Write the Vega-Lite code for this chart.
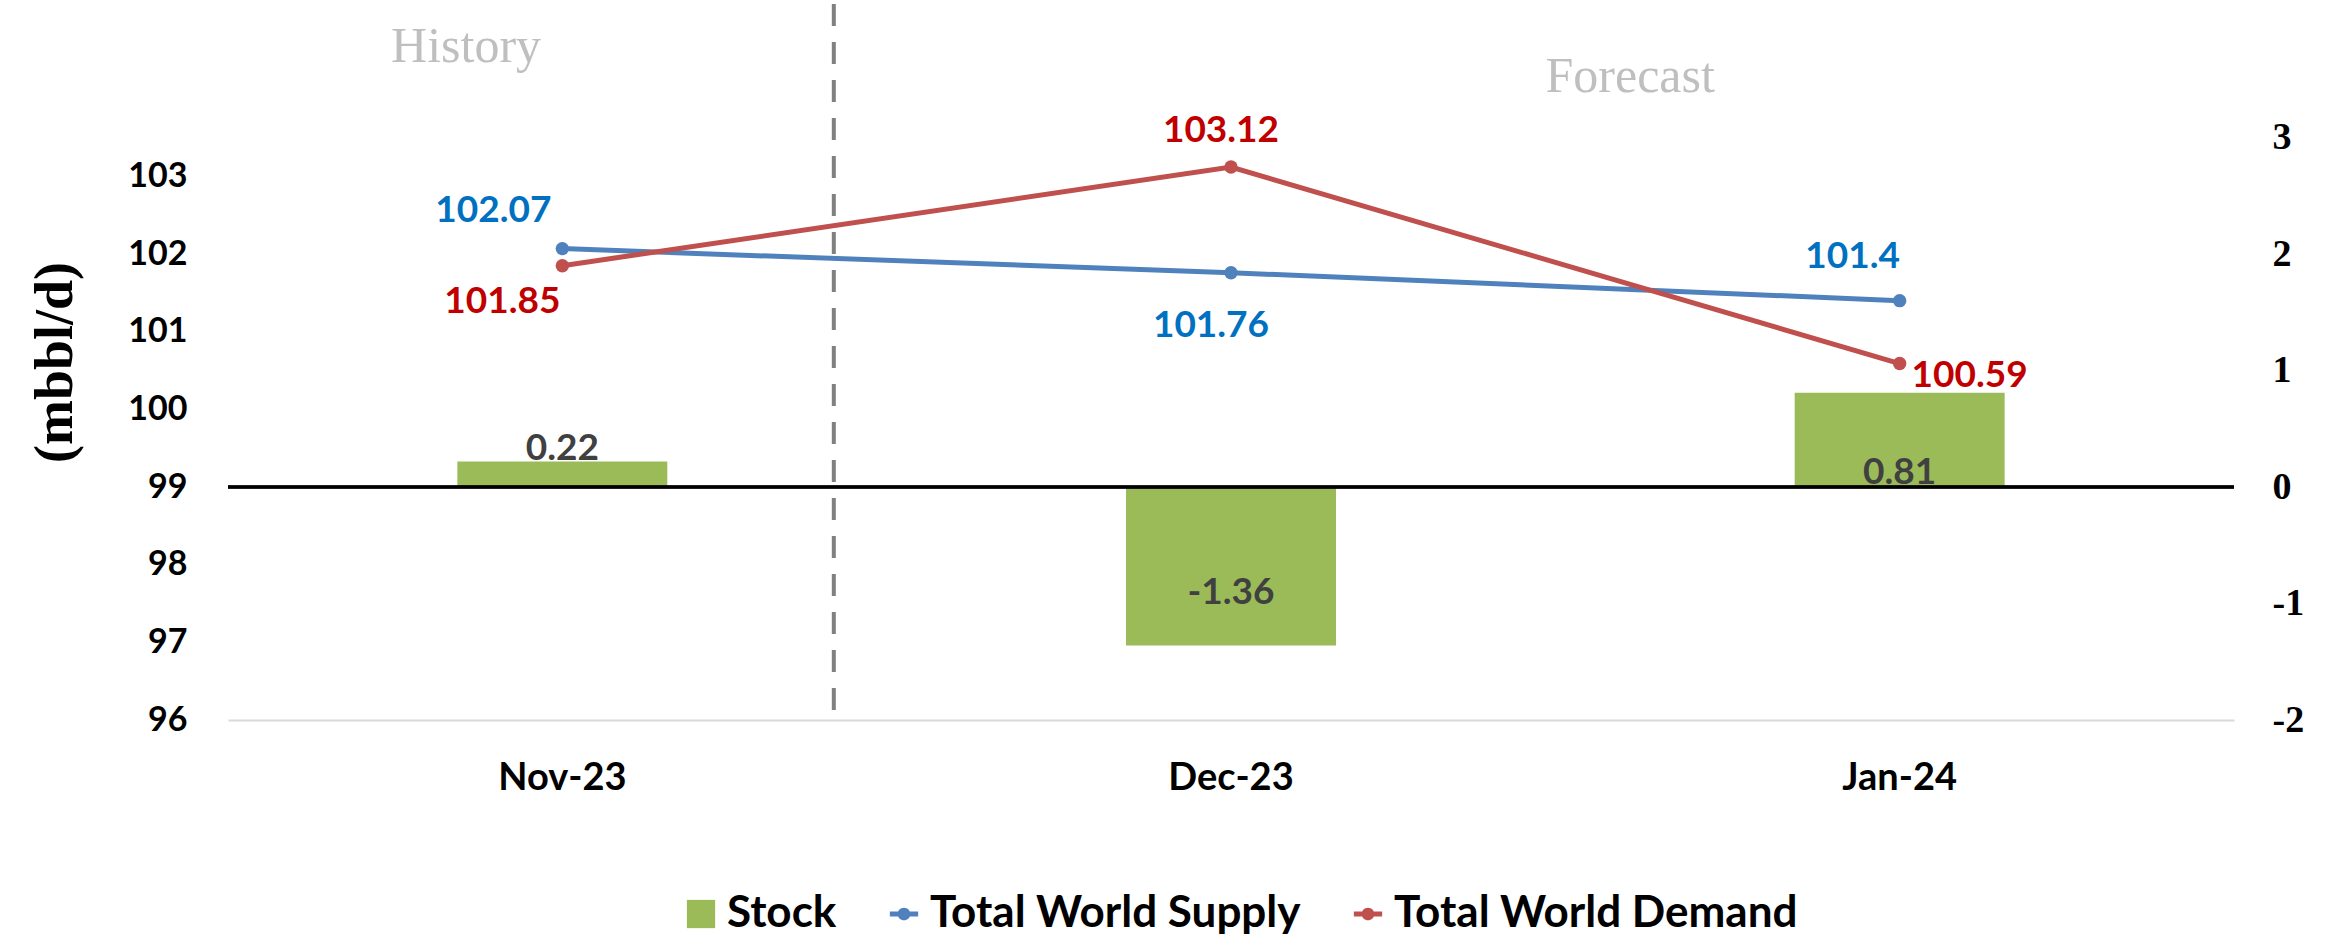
{
  "$schema": "https://vega.github.io/schema/vega-lite/v6.json",
  "autosize": "none",
  "width": 2006,
  "height": 716,
  "padding": {"left": 228, "top": 4, "right": 95, "bottom": 216},
  "background": "#FFFFFF",
  "config": {"view": {"stroke": null}},
  "data": {"values": [
    {"month": "Nov-23", "series": "Stock", "value": 0.22},
    {"month": "Dec-23", "series": "Stock", "value": -1.36},
    {"month": "Jan-24", "series": "Stock", "value": 0.81},
    {"month": "Nov-23", "series": "Total World Supply", "value": 102.07},
    {"month": "Dec-23", "series": "Total World Supply", "value": 101.76},
    {"month": "Jan-24", "series": "Total World Supply", "value": 101.4},
    {"month": "Nov-23", "series": "Total World Demand", "value": 101.85},
    {"month": "Dec-23", "series": "Total World Demand", "value": 103.12},
    {"month": "Jan-24", "series": "Total World Demand", "value": 100.59}
  ]},
  "resolve": {"scale": {"y": "independent"}, "axis": {"y": "independent"}},
  "layer": [
    {
      "transform": [{"filter": "datum.series === 'Stock'"}],
      "encoding": {
        "x": {
          "field": "month", "type": "nominal", "sort": ["Nov-23", "Dec-23", "Jan-24"],
          "scale": {"type": "band", "paddingInner": 0, "paddingOuter": 0},
          "axis": {"title": null, "domainColor": "#D9D9D9", "domainWidth": 2, "ticks": false, "labelAngle": 0,
            "labelFont": "Lato", "labelFontWeight": "bold", "labelFontSize": 38, "labelColor": "#000000", "labelPadding": 39}
        },
        "y": {
          "field": "value", "type": "quantitative",
          "scale": {"domain": [-2, 4.147], "nice": false, "zero": false},
          "axis": {"orient": "right", "title": null, "values": [-2, -1, 0, 1, 2, 3], "labelExpr": "'' + datum.value",
            "domain": false, "ticks": false, "grid": false, "labelFont": "Liberation Serif", "labelFontWeight": "bold",
            "labelFontSize": 38, "labelColor": "#000000", "labelPadding": 38}
        }
      },
      "layer": [
        {
          "mark": {"type": "bar", "width": {"band": 0.314}},
          "encoding": {
            "color": {"field": "series", "type": "nominal",
              "scale": {"domain": ["Stock", "Total World Supply", "Total World Demand"], "range": ["#9BBB59", "#4F81BD", "#C0504D"]},
              "legend": {"title": null, "orient": "none", "direction": "horizontal", "legendX": 451, "legendY": 888,
                "labelFont": "Lato", "labelFontWeight": "bold", "labelFontSize": 44, "labelColor": "#000000", "labelLimit": 0,
                "symbolSize": 800, "columnPadding": 45, "labelOffset": 4, "gridAlign": "none",
                "encode": {"symbols": {"update": {
                  "shape": {"signal": "datum.value === 'Stock' ? 'square' : 'M-1,-0.18H1V0.18H-1Z M0.45,0A0.45,0.45,0,1,1,-0.45,0A0.45,0.45,0,1,1,0.45,0Z'"},
                  "fill": {"scale": "color", "field": "value"},
                  "fillOpacity": {"value": 1},
                  "strokeWidth": {"value": 0}
                }}}}
            }
          }
        },
        {
          "transform": [{"filter": "datum.month === 'Nov-23'"}],
          "mark": {"type": "text", "font": "Lato", "fontWeight": "bold", "fontSize": 37, "color": "#404040", "baseline": "middle", "dy": -12},
          "encoding": {"text": {"field": "value"}}
        },
        {
          "transform": [{"filter": "datum.month === 'Dec-23'"}],
          "mark": {"type": "text", "font": "Lato", "fontWeight": "bold", "fontSize": 37, "color": "#404040", "baseline": "middle", "dy": -52},
          "encoding": {"text": {"field": "value"}}
        },
        {
          "transform": [{"filter": "datum.month === 'Jan-24'"}],
          "mark": {"type": "text", "font": "Lato", "fontWeight": "bold", "fontSize": 37, "color": "#404040", "baseline": "middle", "dy": 80},
          "encoding": {"text": {"field": "value"}}
        },
        {
          "mark": {"type": "rule", "color": "#000000", "strokeWidth": 3},
          "encoding": {"y": {"datum": 0}, "x": null}
        }
      ]
    },
    {
      "transform": [{"filter": "datum.series !== 'Stock'"}],
      "encoding": {
        "x": {"field": "month", "type": "nominal", "sort": ["Nov-23", "Dec-23", "Jan-24"]},
        "y": {
          "field": "value", "type": "quantitative",
          "scale": {"domain": [96, 105.22], "nice": false, "zero": false},
          "axis": {"orient": "left", "title": "(mbbl/d)", "values": [96, 97, 98, 99, 100, 101, 102, 103],
            "domain": false, "ticks": false, "grid": false, "labelFont": "Lato", "labelFontWeight": "bold",
            "labelFontSize": 34, "labelColor": "#000000", "labelPadding": 41,
            "titleFont": "Liberation Serif", "titleFontWeight": "bold", "titleFontSize": 54, "titleColor": "#000000", "titlePadding": 45}
        }
      },
      "layer": [
        {
          "mark": {"type": "line", "strokeWidth": 5},
          "encoding": {"color": {"field": "series", "type": "nominal"}}
        },
        {
          "mark": {"type": "point", "filled": true, "size": 180, "opacity": 1},
          "encoding": {"color": {"field": "series", "type": "nominal"}}
        },
        {
          "transform": [{"filter": "datum.month === 'Nov-23' && datum.series === 'Total World Supply'"}],
          "mark": {"type": "text", "font": "Lato", "fontWeight": "bold", "fontSize": 37, "color": "#0070C0", "baseline": "middle", "dx": -69, "dy": -38},
          "encoding": {"text": {"field": "value"}}
        },
        {
          "transform": [{"filter": "datum.month === 'Nov-23' && datum.series === 'Total World Demand'"}],
          "mark": {"type": "text", "font": "Lato", "fontWeight": "bold", "fontSize": 37, "color": "#C00000", "baseline": "middle", "dx": -60, "dy": 36},
          "encoding": {"text": {"field": "value"}}
        },
        {
          "transform": [{"filter": "datum.month === 'Dec-23' && datum.series === 'Total World Demand'"}],
          "mark": {"type": "text", "font": "Lato", "fontWeight": "bold", "fontSize": 37, "color": "#C00000", "baseline": "middle", "dx": -10, "dy": -36},
          "encoding": {"text": {"field": "value"}}
        },
        {
          "transform": [{"filter": "datum.month === 'Dec-23' && datum.series === 'Total World Supply'"}],
          "mark": {"type": "text", "font": "Lato", "fontWeight": "bold", "fontSize": 37, "color": "#0070C0", "baseline": "middle", "dx": -20, "dy": 53},
          "encoding": {"text": {"field": "value"}}
        },
        {
          "transform": [{"filter": "datum.month === 'Jan-24' && datum.series === 'Total World Supply'"}],
          "mark": {"type": "text", "font": "Lato", "fontWeight": "bold", "fontSize": 37, "color": "#0070C0", "baseline": "middle", "dx": -47, "dy": -44},
          "encoding": {"text": {"field": "value"}}
        },
        {
          "transform": [{"filter": "datum.month === 'Jan-24' && datum.series === 'Total World Demand'"}],
          "mark": {"type": "text", "font": "Lato", "fontWeight": "bold", "fontSize": 37, "color": "#C00000", "baseline": "middle", "dx": 70, "dy": 12},
          "encoding": {"text": {"field": "value"}}
        },
        {
          "transform": [{"filter": "datum.month === 'Nov-23' && datum.series === 'Total World Supply'"}],
          "mark": {"type": "rule", "color": "#808080", "strokeWidth": 4, "strokeDash": [22, 16]},
          "encoding": {"x": {"field": "month", "type": "nominal", "bandPosition": 0.906}, "y": null}
        },
        {
          "transform": [{"filter": "datum.month === 'Nov-23' && datum.series === 'Total World Supply'"}],
          "mark": {"type": "text", "text": "History", "font": "Liberation Serif", "fontSize": 50, "color": "#BFBFBF", "baseline": "middle"},
          "encoding": {"x": {"field": "month", "type": "nominal", "bandPosition": 0.356}, "y": {"datum": 104.665}}
        },
        {
          "transform": [{"filter": "datum.month === 'Jan-24' && datum.series === 'Total World Supply'"}],
          "mark": {"type": "text", "text": "Forecast", "font": "Liberation Serif", "fontSize": 50, "color": "#BFBFBF", "baseline": "middle"},
          "encoding": {"x": {"field": "month", "type": "nominal", "bandPosition": 0.097}, "y": {"datum": 104.28}}
        }
      ]
    }
  ]
}
